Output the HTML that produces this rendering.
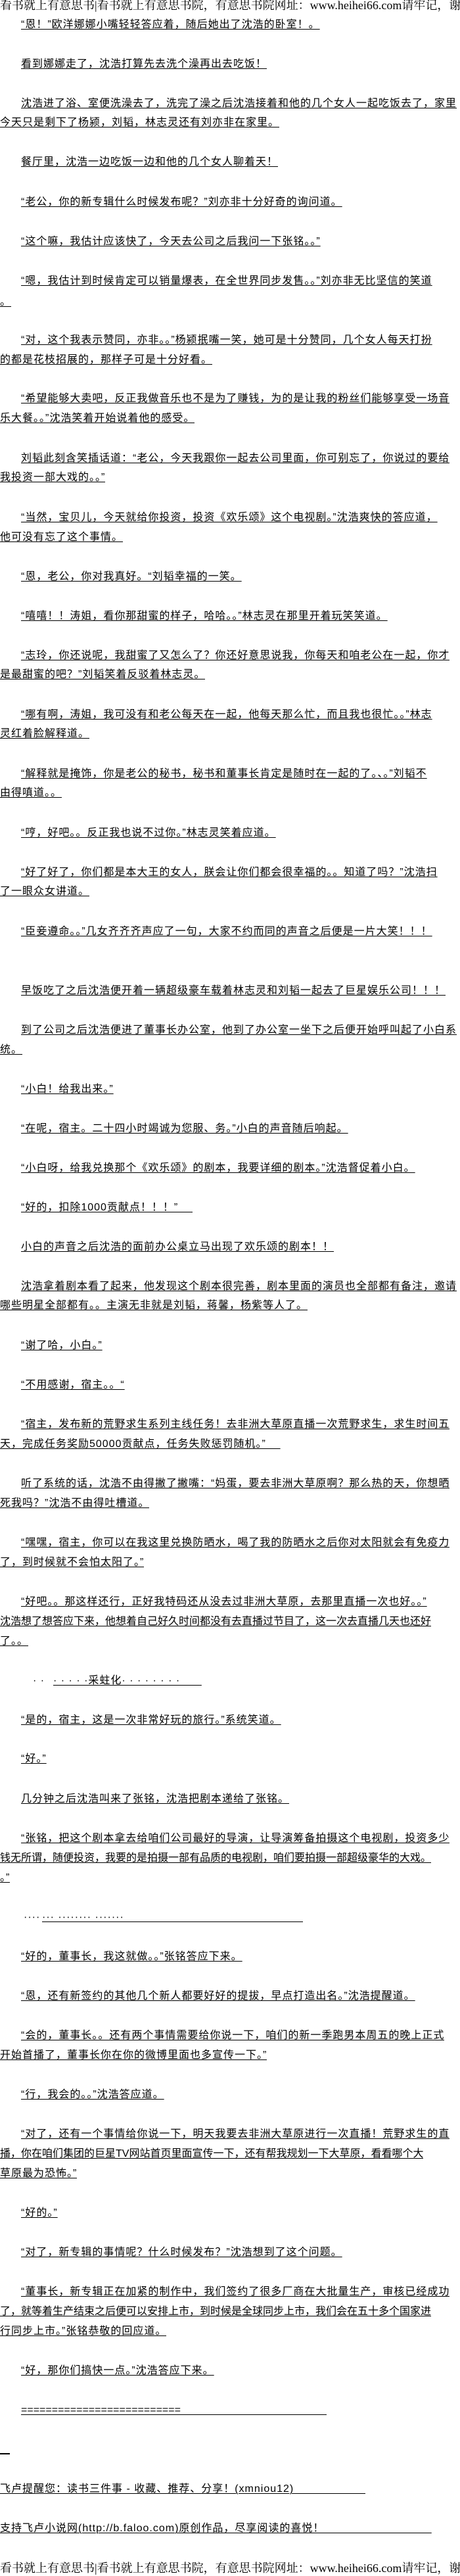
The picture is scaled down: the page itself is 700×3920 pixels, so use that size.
<!DOCTYPE html>
<html><head><meta charset="utf-8"><style>
html,body{margin:0;padding:0;background:#fff;}
body{width:700px;height:3920px;position:relative;overflow:hidden;}
.l{position:absolute;left:0;white-space:nowrap;font-family:"Liberation Sans","Noto Sans CJK SC","WenQuanYi Zen Hei",sans-serif;font-size:16px;letter-spacing:1px;line-height:20px;color:#000;text-decoration:underline;text-decoration-thickness:1px;text-underline-offset:2px;max-width:700px;overflow:hidden;}
.i{left:32px;max-width:668px;}
.t{letter-spacing:0;}
.h{font-family:"Liberation Serif","Noto Serif CJK SC",serif;text-decoration:none;letter-spacing:0;font-size:18px;width:700px;overflow:hidden;}
</style></head><body>
<div class="l h" style="top:-2px">看书就上有意思书|看书就上有意思书院，有意思书院网址：www.heihei66.com请牢记，谢谢</div>
<div class="l i" style="top:28px">“恩！”欧洋娜娜小嘴轻轻答应着，随后她出了沈浩的卧室！。</div>
<div class="l i" style="top:88px">看到娜娜走了，沈浩打算先去洗个澡再出去吃饭！</div>
<div class="l i" style="top:148px">沈浩进了浴、室便洗澡去了，洗完了澡之后沈浩接着和他的几个女人一起吃饭去了，家里</div>
<div class="l" style="top:177px">今天只是剩下了杨颍，刘韬，林志灵还有刘亦非在家里。</div>
<div class="l i" style="top:237px">餐厅里，沈浩一边吃饭一边和他的几个女人聊着天！</div>
<div class="l i" style="top:298px">“老公，你的新专辑什么时候发布呢？”刘亦非十分好奇的询问道。</div>
<div class="l i" style="top:358px">“这个嘛，我估计应该快了，今天去公司之后我问一下张铭。。”</div>
<div class="l i" style="top:418px">“嗯，我估计到时候肯定可以销量爆表，在全世界同步发售。。”刘亦非无比坚信的笑道</div>
<div class="l" style="top:450px">。</div>
<div class="l i" style="top:508px">“对，这个我表示赞同，亦非。。”杨颍抿嘴一笑，她可是十分赞同，几个女人每天打扮</div>
<div class="l" style="top:538px">的都是花枝招展的，那样子可是十分好看。</div>
<div class="l i" style="top:597px">“希望能够大卖吧，反正我做音乐也不是为了赚钱，为的是让我的粉丝们能够享受一场音</div>
<div class="l" style="top:627px">乐大餐。。”沈浩笑着开始说着他的感受。</div>
<div class="l i" style="top:688px">刘韬此刻含笑插话道：“老公，今天我跟你一起去公司里面，你可别忘了，你说过的要给</div>
<div class="l" style="top:717px">我投资一部大戏的。。”</div>
<div class="l i" style="top:778px">“当然，宝贝儿，今天就给你投资，投资《欢乐颂》这个电视剧。”沈浩爽快的答应道，</div>
<div class="l" style="top:808px">他可没有忘了这个事情。</div>
<div class="l i" style="top:868px">“恩，老公，你对我真好。“刘韬幸福的一笑。</div>
<div class="l i" style="top:928px">“嘻嘻！！涛姐，看你那甜蜜的样子，哈哈。。”林志灵在那里开着玩笑笑道。</div>
<div class="l i" style="top:988px">“志玲，你还说呢，我甜蜜了又怎么了？你还好意思说我，你每天和咱老公在一起，你才</div>
<div class="l" style="top:1017px">是最甜蜜的吧？”刘韬笑着反驳着林志灵。</div>
<div class="l i" style="top:1078px">“哪有啊，涛姐，我可没有和老公每天在一起，他每天那么忙，而且我也很忙。。”林志</div>
<div class="l" style="top:1107px">灵红着脸解释道。</div>
<div class="l i" style="top:1168px">“解释就是掩饰，你是老公的秘书，秘书和董事长肯定是随时在一起的了。、。”刘韬不</div>
<div class="l" style="top:1197px">由得嗔道。。</div>
<div class="l i" style="top:1258px">“哼，好吧。。反正我也说不过你。”林志灵笑着应道。</div>
<div class="l i" style="top:1318px">“好了好了，你们都是本大王的女人，朕会让你们都会很幸福的。。知道了吗？”沈浩扫</div>
<div class="l" style="top:1347px">了一眼众女讲道。</div>
<div class="l i" style="top:1408px">“臣妾遵命。。”几女齐齐齐声应了一句，大家不约而同的声音之后便是一片大笑！！！</div>
<div class="l i" style="top:1498px">早饭吃了之后沈浩便开着一辆超级豪车载着林志灵和刘韬一起去了巨星娱乐公司！！！</div>
<div class="l i" style="top:1558px">到了公司之后沈浩便进了董事长办公室，他到了办公室一坐下之后便开始呼叫起了小白系</div>
<div class="l" style="top:1588px">统。</div>
<div class="l i" style="top:1648px">“小白！给我出来。”</div>
<div class="l i" style="top:1708px">“在呢，宿主。二十四小时竭诚为您服、务。”小白的声音随后响起。</div>
<div class="l i" style="top:1768px">“小白呀，给我兑换那个《欢乐颂》的剧本，我要详细的剧本。”沈浩督促着小白。</div>
<div class="l i" style="top:1828px">“好的，扣除1000贡献点！！！”&nbsp;&nbsp;&nbsp;&nbsp;</div>
<div class="l i" style="top:1888px">小白的声音之后沈浩的面前办公桌立马出现了欢乐颂的剧本！！</div>
<div class="l i" style="top:1948px">沈浩拿着剧本看了起来，他发现这个剧本很完善，剧本里面的演员也全部都有备注，邀请</div>
<div class="l" style="top:1977px">哪些明星全部都有。。主演无非就是刘韬，蒋馨，杨紫等人了。</div>
<div class="l i" style="top:2038px">“谢了哈，小白。”</div>
<div class="l i" style="top:2098px">“不用感谢，宿主。。“</div>
<div class="l i" style="top:2158px">“宿主，发布新的荒野求生系列主线任务！去非洲大草原直播一次荒野求生，求生时间五</div>
<div class="l" style="top:2188px">天，完成任务奖励50000贡献点，任务失败惩罚随机。”&nbsp;&nbsp;&nbsp;&nbsp;</div>
<div class="l i" style="top:2248px">听了系统的话，沈浩不由得撇了撇嘴：“妈蛋，要去非洲大草原啊？那么热的天，你想晒</div>
<div class="l" style="top:2278px">死我吗？”沈浩不由得吐槽道。</div>
<div class="l i" style="top:2338px">“嘿嘿，宿主，你可以在我这里兑换防晒水，喝了我的防晒水之后你对太阳就会有免疫力</div>
<div class="l" style="top:2368px">了，到时候就不会怕太阳了。”</div>
<div class="l i" style="top:2428px">“好吧。。那这样还行，正好我特码还从没去过非洲大草原，去那里直播一次也好。。”</div>
<div class="l t" style="top:2458px">沈浩想了想答应下来，他想着自己好久时间都没有去直播过节目了，这一次去直播几天也还好</div>
<div class="l" style="top:2488px">了。。</div>
<div class="l" style="top:2548px;left:50px;text-decoration:none">· ·</div>
<div class="l" style="top:2548px;left:81px">· · · · ·采蛀化· · · · · · · ·&nbsp;&nbsp;&nbsp;&nbsp;&nbsp;&nbsp;</div>
<div class="l i" style="top:2608px">“是的，宿主，这是一次非常好玩的旅行。”系统笑道。</div>
<div class="l i" style="top:2667px">“好。”</div>
<div class="l i" style="top:2728px">几分钟之后沈浩叫来了张铭，沈浩把剧本递给了张铭。</div>
<div class="l i" style="top:2788px">“张铭，把这个剧本拿去给咱们公司最好的导演，让导演筹备拍摄这个电视剧，投资多少</div>
<div class="l t" style="top:2818px">钱无所谓，随便投资，我要的是拍摄一部有品质的电视剧，咱们要拍摄一部超级豪华的大戏。</div>
<div class="l" style="top:2848px">。”</div>
<div class="l" style="top:2908px;left:36px;text-decoration:none">····</div>
<div class="l" style="top:2908px;left:64px">··· ········ ·······&nbsp;&nbsp;&nbsp;&nbsp;&nbsp;&nbsp;&nbsp;&nbsp;&nbsp;&nbsp;&nbsp;&nbsp;&nbsp;&nbsp;&nbsp;&nbsp;&nbsp;&nbsp;&nbsp;&nbsp;&nbsp;&nbsp;&nbsp;&nbsp;&nbsp;&nbsp;&nbsp;&nbsp;&nbsp;&nbsp;&nbsp;&nbsp;&nbsp;&nbsp;&nbsp;&nbsp;&nbsp;&nbsp;&nbsp;&nbsp;&nbsp;&nbsp;&nbsp;&nbsp;&nbsp;&nbsp;&nbsp;&nbsp;&nbsp;&nbsp;</div>
<div class="l i" style="top:2968px">“好的，董事长，我这就做。。”张铭答应下来。</div>
<div class="l i" style="top:3028px">“恩，还有新签约的其他几个新人都要好好的提拔，早点打造出名。”沈浩提醒道。</div>
<div class="l i" style="top:3088px">“会的，董事长。。还有两个事情需要给你说一下，咱们的新一季跑男本周五的晚上正式</div>
<div class="l" style="top:3118px">开始首播了，董事长你在你的微博里面也多宣传一下。”</div>
<div class="l i" style="top:3178px">“行，我会的。。”沈浩答应道。</div>
<div class="l i" style="top:3238px">“对了，还有一个事情给你说一下，明天我要去非洲大草原进行一次直播！荒野求生的直</div>
<div class="l t" style="top:3268px">播，你在咱们集团的巨星TV网站首页里面宣传一下，还有帮我规划一下大草原，看看哪个大</div>
<div class="l" style="top:3298px">草原最为恐怖。”</div>
<div class="l i" style="top:3358px">“好的。”</div>
<div class="l i" style="top:3418px">“对了，新专辑的事情呢？什么时候发布？”沈浩想到了这个问题。</div>
<div class="l i" style="top:3478px">“董事长，新专辑正在加紧的制作中，我们签约了很多厂商在大批量生产，审核已经成功</div>
<div class="l t" style="top:3508px">了，就等着生产结束之后便可以安排上市，到时候是全球同步上市，我们会在五十多个国家进</div>
<div class="l" style="top:3538px">行同步上市。”张铭恭敬的回应道。</div>
<div class="l i" style="top:3598px">“好，那你们搞快一点。”沈浩答应下来。</div>
<div class="l i" style="top:3658px;letter-spacing:0">==========================&nbsp;&nbsp;&nbsp;&nbsp;&nbsp;&nbsp;&nbsp;&nbsp;&nbsp;&nbsp;&nbsp;&nbsp;&nbsp;&nbsp;&nbsp;&nbsp;&nbsp;&nbsp;&nbsp;&nbsp;&nbsp;&nbsp;&nbsp;&nbsp;&nbsp;&nbsp;&nbsp;&nbsp;&nbsp;&nbsp;&nbsp;&nbsp;&nbsp;&nbsp;&nbsp;&nbsp;&nbsp;&nbsp;&nbsp;&nbsp;&nbsp;&nbsp;&nbsp;&nbsp;&nbsp;&nbsp;&nbsp;&nbsp;&nbsp;&nbsp;</div>
<div style="position:absolute;left:0;top:3733px;width:15px;height:2px;background:#000"></div>
<div class="l" style="top:3778px">飞卢提醒您：读书三件事 - 收藏、推荐、分享！(xmniou12)&nbsp;&nbsp;&nbsp;&nbsp;&nbsp;&nbsp;&nbsp;&nbsp;&nbsp;&nbsp;&nbsp;&nbsp;&nbsp;&nbsp;&nbsp;&nbsp;&nbsp;&nbsp;&nbsp;&nbsp;</div>
<div class="l" style="top:3838px">支持飞卢小说网(http://b.faloo.com)原创作品，尽享阅读的喜悦！&nbsp;&nbsp;&nbsp;&nbsp;&nbsp;&nbsp;&nbsp;&nbsp;&nbsp;&nbsp;&nbsp;&nbsp;&nbsp;&nbsp;&nbsp;&nbsp;&nbsp;&nbsp;&nbsp;&nbsp;&nbsp;&nbsp;&nbsp;&nbsp;&nbsp;&nbsp;&nbsp;&nbsp;&nbsp;&nbsp;</div>
<div class="l h" style="top:3898px">看书就上有意思书|看书就上有意思书院，有意思书院网址：www.heihei66.com请牢记，谢谢</div>
</body></html>
